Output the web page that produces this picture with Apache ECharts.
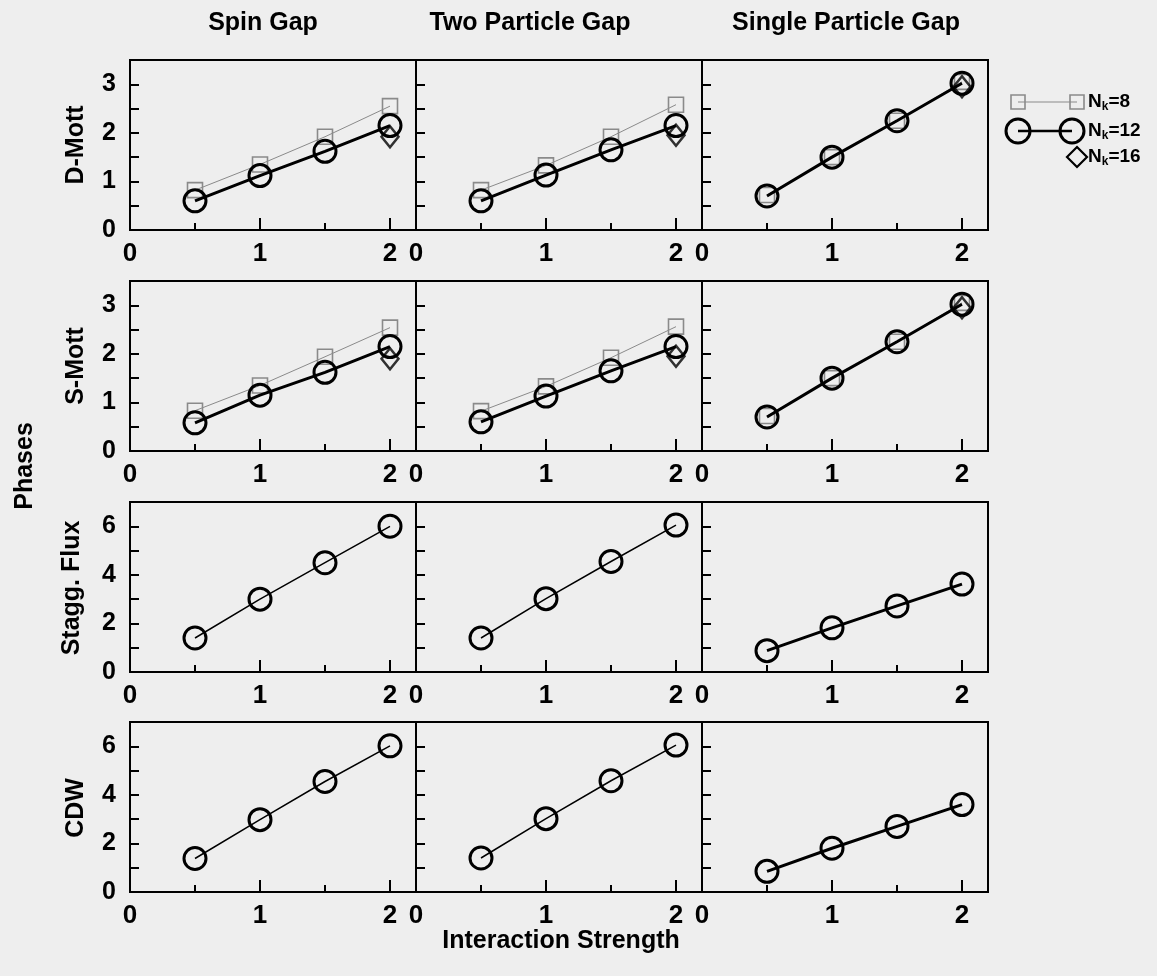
<!DOCTYPE html>
<html lang="en">
<head>
<meta charset="UTF-8">
<title>Gaps vs interaction strength</title>
<style>
  html, body { margin: 0; padding: 0; background: #eeeeee; }
  #main { width: 1157px; height: 976px; }
</style>
<script src="https://cdn.jsdelivr.net/npm/echarts@6/dist/echarts.min.js"></script>
</head>
<body>
<div id="main"></div>
<script>
// x values (interaction strength)
var uValues = [0.5, 1, 1.5, 2];
var gapNames = ['Spin Gap', 'Two Particle Gap', 'Single Particle Gap'];
var phaseNames = ['D-Mott', 'S-Mott', 'Stagg. Flux', 'CDW'];
var yMax = [3.5, 3.5, 7, 7];
var yStep = [1, 1, 2, 2];

// one inner array per gap column: spin, two particle, single particle
var dMottNk8  = [[0.82, 1.35, 1.92, 2.55], [0.82, 1.33, 1.92, 2.58], [0.72, 1.50, 2.25, 3.05]];
var dMottNk12 = [[0.60, 1.12, 1.62, 2.15], [0.60, 1.13, 1.65, 2.15], [0.70, 1.50, 2.25, 3.02]];
var dMottNk16 = [1.92, 1.95, 2.95];   // only at U = 2

var sMottNk8  = [[0.83, 1.35, 1.94, 2.54], [0.82, 1.33, 1.92, 2.56], [0.72, 1.50, 2.25, 3.05]];
var sMottNk12 = [[0.58, 1.15, 1.62, 2.15], [0.60, 1.13, 1.65, 2.15], [0.70, 1.50, 2.25, 3.02]];
var sMottNk16 = [1.90, 1.95, 2.95];

var fluxNk12 = [[1.40, 3.00, 4.50, 6.00], [1.40, 3.02, 4.55, 6.05], [0.88, 1.82, 2.72, 3.62]];
var cdwNk12  = [[1.38, 2.98, 4.55, 6.02], [1.40, 3.02, 4.58, 6.05], [0.85, 1.80, 2.70, 3.60]];

var FONT = '"Liberation Sans", Arial, sans-serif';
var BG = '#eeeeee';
var colLeft = [130, 416, 702];
var rowTop = [60, 281, 502, 722];
var cellW = 286, cellH = 170;

function pts(arr) {
    return uValues.map(function (u, i) { return [u, arr[i]]; });
}
function onStep(v, step) {
    return Math.abs(v / step - Math.round(v / step)) < 1e-6;
}

var grids = [], xAxes = [], yAxes = [], series = [];

for (var r = 0; r < 4; r++) {
    for (var c = 0; c < 3; c++) {
        var g = r * 3 + c;
        grids.push({
            left: colLeft[c], top: rowTop[r], width: cellW, height: cellH,
            show: true, borderColor: '#000', borderWidth: 2, backgroundColor: 'transparent'
        });
        xAxes.push({
            gridIndex: g, type: 'value', min: 0, max: 2.2, interval: 1,
            axisLine: { show: true, onZero: false, lineStyle: { color: '#000', width: 2 } },
            axisTick: { inside: true, length: 12, lineStyle: { color: '#000', width: 2 } },
            minorTick: { show: true, splitNumber: 2, length: 7, lineStyle: { color: '#000', width: 2 } },
            splitLine: { show: false },
            axisLabel: {
                margin: 11, fontSize: 26, fontWeight: 'bold', color: '#000', fontFamily: FONT,
                showMinLabel: true, showMaxLabel: true,
                formatter: function (v) { return onStep(v, 1) ? String(v) : ''; }
            }
        });
        (function (step) {
            yAxes.push({
                gridIndex: g, type: 'value', min: 0, max: yMax[r], interval: step,
                axisLine: { show: true, onZero: false, lineStyle: { color: '#000', width: 2 } },
                axisTick: { inside: true, length: 9, lineStyle: { color: '#000', width: 2 } },
                minorTick: { show: true, splitNumber: 2, length: 9, lineStyle: { color: '#000', width: 2 } },
                splitLine: { show: false },
                axisLabel: {
                    show: c === 0, margin: 14, fontSize: 25, fontWeight: 'bold', color: '#000', fontFamily: FONT,
                    showMinLabel: true,
                    formatter: function (v) { return onStep(v, step) ? String(v) : ''; }
                }
            });
        })(yStep[r]);
    }
}

function squareSeries(g, arr) {
    return {
        type: 'line', xAxisIndex: g, yAxisIndex: g, data: pts(arr), z: 2,
        symbol: 'rect', symbolSize: 15,
        itemStyle: { color: 'rgba(0,0,0,0)', borderColor: '#8a8a8a', borderWidth: 1.6 },
        lineStyle: { color: '#8a8a8a', width: 1 }
    };
}
function circleSeries(g, arr, lw) {
    return {
        type: 'line', xAxisIndex: g, yAxisIndex: g, data: pts(arr), z: 3,
        symbol: 'circle', symbolSize: 22,
        itemStyle: { color: 'rgba(0,0,0,0)', borderColor: '#000', borderWidth: 3 },
        lineStyle: { color: '#000', width: lw }
    };
}
function diamondSeries(g, v) {
    return {
        type: 'scatter', xAxisIndex: g, yAxisIndex: g, data: [[2, v]], z: 4,
        symbol: 'diamond', symbolSize: [17, 21],
        itemStyle: { color: 'rgba(0,0,0,0)', borderColor: '#000', borderWidth: 2.5 }
    };
}

for (var c2 = 0; c2 < 3; c2++) {
    // D-Mott row
    series.push(squareSeries(c2, dMottNk8[c2]));
    series.push(circleSeries(c2, dMottNk12[c2], 3));
    series.push(diamondSeries(c2, dMottNk16[c2]));
    // S-Mott row
    series.push(squareSeries(3 + c2, sMottNk8[c2]));
    series.push(circleSeries(3 + c2, sMottNk12[c2], 3));
    series.push(diamondSeries(3 + c2, sMottNk16[c2]));
    // Stagg. Flux and CDW rows
    var lw = c2 === 2 ? 3 : 1.5;
    series.push(circleSeries(6 + c2, fluxNk12[c2], lw));
    series.push(circleSeries(9 + c2, cdwNk12[c2], lw));
}

function label(text, x, y, size, rot) {
    return {
        type: 'text', x: x, y: y, rotation: rot || 0, z: 10,
        style: {
            text: text, fill: '#000', fontSize: size, fontWeight: 'bold', fontFamily: FONT,
            align: 'center', verticalAlign: 'middle', textAlign: 'center', textVerticalAlign: 'middle'
        }
    };
}
function nkText(n, y) {
    return {
        type: 'text', x: 1088, y: y, z: 10,
        style: {
            text: '{a|N}{b|k}{a|=' + n + '}', fill: '#000',
            align: 'left', verticalAlign: 'middle', textAlign: 'left', textVerticalAlign: 'middle',
            rich: {
                a: { fontSize: 19, fontWeight: 'bold', fontFamily: FONT, lineHeight: 22, verticalAlign: 'middle' },
                b: { fontSize: 12, fontWeight: 'bold', fontFamily: FONT, padding: [10, 0, 0, 0], verticalAlign: 'middle' }
            }
        }
    };
}

var graphics = [
    label(gapNames[0], 263, 23, 25),
    label(gapNames[1], 530, 23, 25),
    label(gapNames[2], 846, 23, 25),
    label(phaseNames[0], 76, 145, 25, Math.PI / 2),
    label(phaseNames[1], 76, 366, 25, Math.PI / 2),
    label(phaseNames[2], 72, 588, 25, Math.PI / 2),
    label(phaseNames[3], 76, 808, 25, Math.PI / 2),
    label('Phases', 25, 466, 25, Math.PI / 2),
    label('Interaction Strength', 561, 941, 25),
    // legend
    { type: 'line', shape: { x1: 1018, y1: 102, x2: 1077, y2: 102 }, style: { stroke: '#8a8a8a', lineWidth: 1 } },
    { type: 'rect', shape: { x: 1011, y: 95, width: 14, height: 14 }, style: { fill: 'none', stroke: '#8a8a8a', lineWidth: 1.6 } },
    { type: 'rect', shape: { x: 1070, y: 95, width: 14, height: 14 }, style: { fill: 'none', stroke: '#8a8a8a', lineWidth: 1.6 } },
    nkText(8, 102),
    { type: 'line', shape: { x1: 1018, y1: 131, x2: 1072, y2: 131 }, style: { stroke: '#000', lineWidth: 2.5 } },
    { type: 'circle', shape: { cx: 1018, cy: 131, r: 12 }, style: { fill: 'none', stroke: '#000', lineWidth: 3 } },
    { type: 'circle', shape: { cx: 1072, cy: 131, r: 12 }, style: { fill: 'none', stroke: '#000', lineWidth: 3 } },
    nkText(12, 131),
    { type: 'polygon', shape: { points: [[1077, 147], [1087, 157], [1077, 167], [1067, 157]] }, style: { fill: 'none', stroke: '#000', lineWidth: 2.2 } },
    nkText(16, 157)
];

var chart = echarts.init(document.getElementById('main'));
chart.setOption({
    backgroundColor: BG,
    animation: false,
    grid: grids,
    xAxis: xAxes,
    yAxis: yAxes,
    series: series,
    graphic: graphics
});
</script>
</body>
</html>
